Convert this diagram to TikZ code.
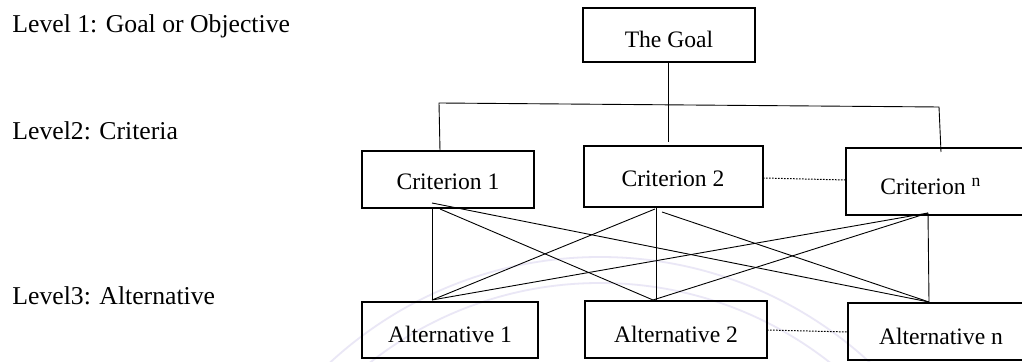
\documentclass[tikz,border=0pt]{standalone}
\usepackage{fontspec}
\setmainfont{Liberation Serif}
\definecolor{wmcol}{RGB}{234,231,246}
\begin{document}
\begin{tikzpicture}[x=0.5pt,y=-0.5pt,
  box/.style={draw,line width=0.8pt,inner sep=0pt},
  boxtext/.style={anchor=base,inner sep=0pt,font=\fontsize{11.8}{14}\selectfont},
  leveltext/.style={anchor=base west,inner sep=0pt,font=\fontsize{12.85}{15}\selectfont},
  link/.style={line width=0.45pt},
  dotlink/.style={line width=0.5pt,dash pattern=on 0.8pt off 0.7pt},
  wm/.style={draw=wmcol,line width=0.9pt}]
\useasboundingbox[fill=white] (0,0) rectangle (1022,362);
% faint watermark rings
\draw[wm] (600,655) circle[radius=398];
\draw[wm] (600,655) circle[radius=372];
% level labels
\node[leveltext] (l1) at (12,33) {Level 1: Goal or Objective};
\node[leveltext] (l2) at (12,140) {Level2: Criteria};
\node[leveltext] (l3) at (12,305) {Level3: Alternative};
% boxes
\node[box,fill=white] (g) at (669,35) [minimum width=86pt,minimum height=27pt] {};
\node[box,fill=white] (c1) at (448,179.5) [minimum width=86pt,minimum height=28.5pt] {};
\node[box,fill=white] (c2) at (673.5,176.5) [minimum width=89.5pt,minimum height=30.5pt] {};
\node[box,fill=white] (cn) at (935,181.5) [minimum width=89pt,minimum height=33.5pt] {};
\node[box] (a1) at (450,330) [minimum width=88pt,minimum height=28pt] {};
\node[box] (a2) at (676,329.5) [minimum width=91pt,minimum height=28.5pt] {};
\node[box] (an) at (936,331.5) [minimum width=88pt,minimum height=28.5pt] {};
% box texts
\node[boxtext] (tg) at (669,48) {The Goal};
\node[boxtext] (tc1) at (448,190) {Criterion 1};
\node[boxtext] (tc2) at (673,187) {Criterion 2};
\node[boxtext,anchor=base west] (tcn) at (880,195) {Criterion~\raisebox{4pt}{\fontsize{8.8}{9}\selectfont n}};
\node[boxtext] (ta1) at (450,343) {Alternative 1};
\node[boxtext] (ta2) at (676,343) {Alternative 2};
\node[boxtext] (tan) at (941,345) {Alternative n};
% tree connectors
\coordinate (gend) at (668,142);
\coordinate (bl) at (439,103);
\coordinate (br) at (939,107);
\coordinate (c1top) at (440,151);
\coordinate (cntop) at (941,152);
\draw[link] (g.south -| gend) -- (gend);
\draw[link] (c1top) -- (bl) -- (br) -- (cntop);
% criteria to alternatives
\coordinate (c1p) at (432,208);
\coordinate (c1q) at (432,203);
\coordinate (c1r) at (440,209);
\coordinate (c2p) at (655,209);
\coordinate (c2q) at (656,208);
\coordinate (c2r) at (662,212);
\coordinate (cnp) at (928,213);
\coordinate (a1p) at (432,300);
\coordinate (a2p) at (653,300);
\coordinate (a2q) at (656,300);
\coordinate (anp) at (929,302);
\draw[link] (c1p) -- (a1p);
\draw[link] (c1q) -- (anp);
\draw[link] (c1r) -- (a2p);
\draw[link] (c2p) -- (a1p);
\draw[link] (c2q) -- (a2q);
\draw[link] (c2r) -- (anp);
\draw[link] (cnp) -- (a1p);
\draw[link] (cnp) -- (a2p);
\draw[link] (cnp) -- (anp);
% dotted links
\coordinate (d1) at (763,178);
\coordinate (d2) at (846,180);
\coordinate (d3) at (767,330);
\coordinate (d4) at (848,332);
\draw[dotlink] (d1) -- (d2);
\draw[dotlink] (d3) -- (d4);
\end{tikzpicture}
\end{document}
